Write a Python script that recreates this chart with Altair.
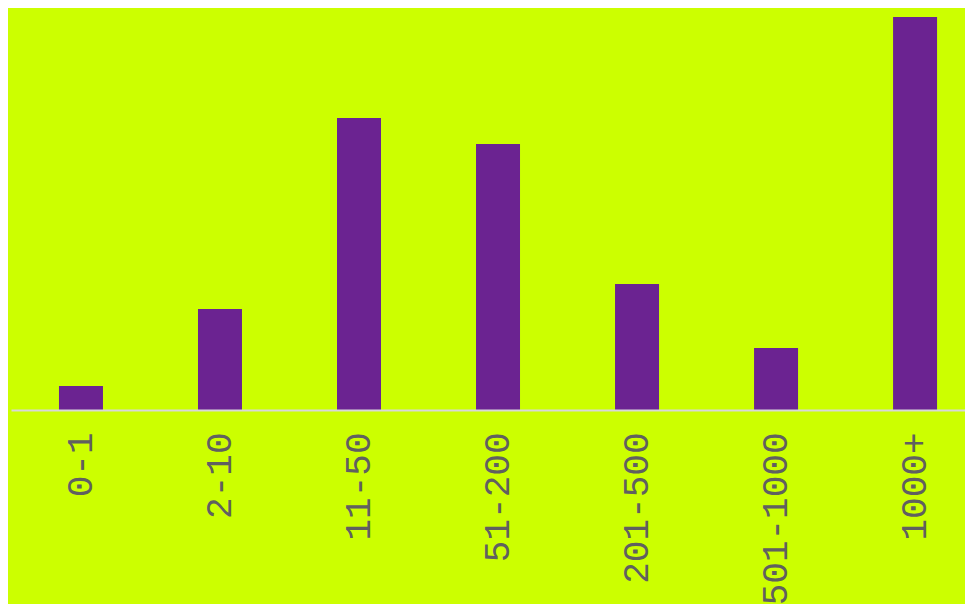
import altair as alt
import pandas as pd

categories = ["0-1", "2-10", "11-50", "51-200", "201-500", "501-1000", "1000+"]
values = [24, 101, 292, 266, 126, 62, 393]

df = pd.DataFrame({"cat": categories, "value": values})

chart = (
    alt.Chart(df)
    .mark_bar(color="#6B2391")
    .encode(
        x=alt.X(
            "cat:N",
            sort=categories,
            title=None,
            scale=alt.Scale(paddingInner=0.6835, paddingOuter=0.273, align=0.632),
            axis=alt.Axis(
                labelAngle=-90,
                labelFont="Liberation Mono",
                labelFontSize=36,
                labelColor="#606060",
                labelPadding=22,
                ticks=False,
                domainColor="#d8d8d8",
                domainWidth=2,
                zindex=1,
            ),
        ),
        y=alt.Y("value:Q", scale=alt.Scale(domain=[0, 400]), axis=None),
    )
    .properties(
        width=954,
        height=400,
        background="#CCFF00",
        padding={"left": 3, "top": 2, "right": 0, "bottom": 200},
        autosize=alt.AutoSizeParams(type="none"),
    )
    .configure_view(stroke=None)
)

chart.save("out.html", embed_options={"renderer": "svg", "actions": False})
